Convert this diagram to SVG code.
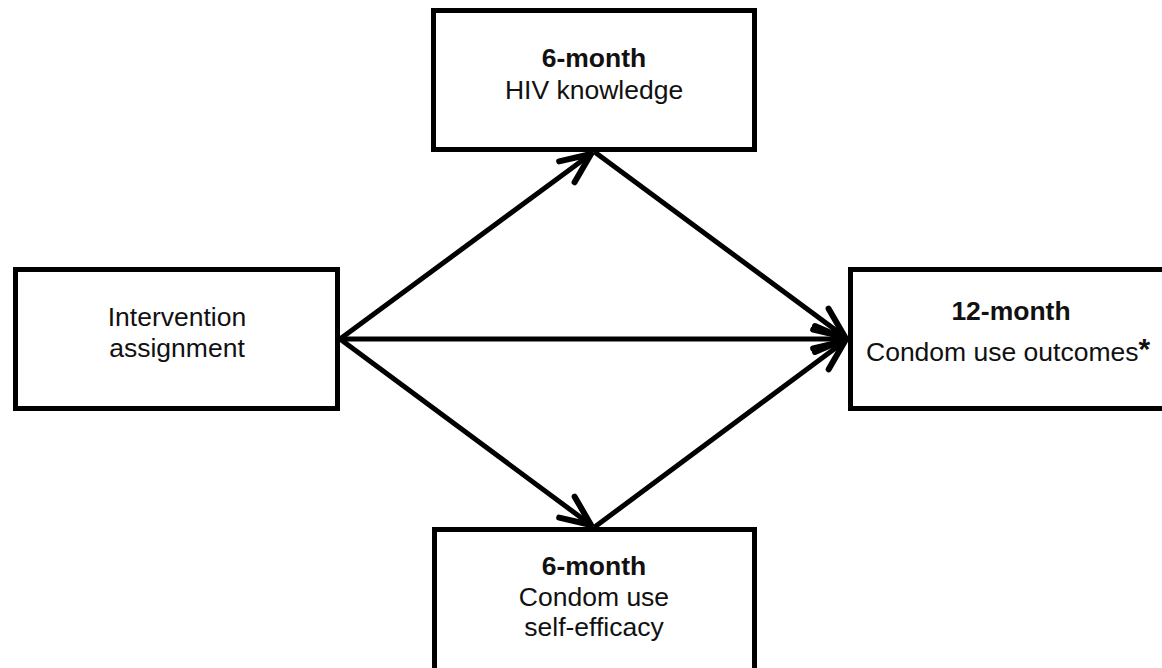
<svg xmlns="http://www.w3.org/2000/svg" width="1162" height="668" viewBox="0 0 1162 668">
<defs>
<style>
.box{fill:#fff;stroke:#000;stroke-width:5}
.t{font-family:"Liberation Sans",Arial,sans-serif;font-size:26.5px;fill:#111;text-anchor:middle}
.b{font-weight:bold}
.c{stroke:#000;stroke-width:5;fill:none;stroke-linecap:round}
</style>
<marker id="ah" markerUnits="userSpaceOnUse" markerWidth="44" markerHeight="44" viewBox="-38 -22 44 44" refX="0" refY="0" orient="auto">
<path d="M-30,-13 L0,0 L-30,13" fill="none" stroke="#000" stroke-width="6" stroke-linecap="round" stroke-linejoin="round"/>
</marker>
</defs>
<rect width="1162" height="668" fill="#fff"/>
<g id="connectors">
<line class="c" x1="340" y1="339" x2="591" y2="154" marker-end="url(#ah)"/>
<line class="c" x1="340" y1="339" x2="845" y2="339" marker-end="url(#ah)"/>
<line class="c" x1="340" y1="339" x2="591" y2="525" marker-end="url(#ah)"/>
<line class="c" x1="596" y1="153" x2="845" y2="337" marker-end="url(#ah)"/>
<line class="c" x1="596" y1="526" x2="845" y2="341" marker-end="url(#ah)"/>
</g>
<g id="node-top">
<rect class="box" x="433.5" y="10.5" width="321" height="139"/>
<text class="t b" x="594" y="67">6-month</text>
<text class="t" x="594" y="99">HIV knowledge</text>
</g>
<g id="node-left">
<rect class="box" x="15.5" y="269.5" width="322" height="139"/>
<text class="t" x="177" y="326">Intervention</text>
<text class="t" x="177" y="357">assignment</text>
</g>
<g id="node-right">
<rect class="box" x="850.5" y="269.5" width="400" height="139"/>
<text class="t b" x="1011" y="320">12-month</text>
<text class="t" x="866" y="361" style="text-anchor:start">Condom use outcomes<tspan class="b" font-size="30" dy="-2">*</tspan></text>
</g>
<g id="node-bottom">
<rect class="box" x="434.5" y="529.5" width="320" height="200"/>
<text class="t b" x="594" y="575">6-month</text>
<text class="t" x="594" y="606">Condom use</text>
<text class="t" x="594" y="636">self-efficacy</text>
</g>
</svg>
